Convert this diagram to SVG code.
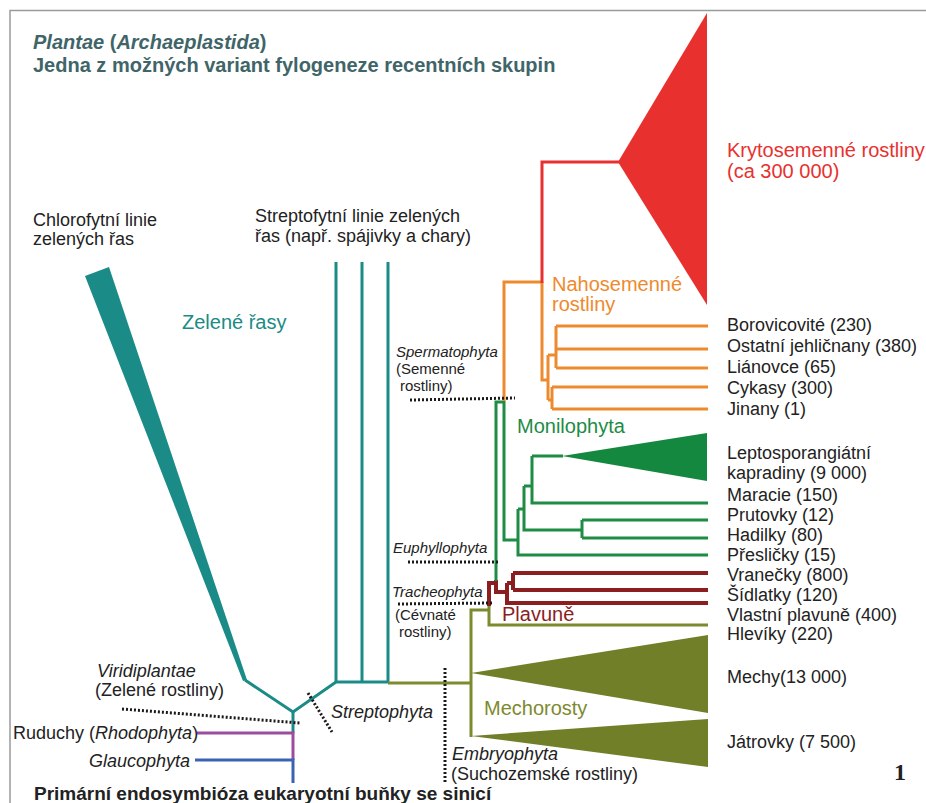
<svg xmlns="http://www.w3.org/2000/svg" width="926" height="803" viewBox="0 0 926 803">
<style>
text{font-family:"Liberation Sans",Arial,sans-serif;fill:#222}
.lab{font-size:18px}
.ann{font-size:15px}
.big{font-size:20px}
.it{font-style:italic}
.ttl{font-size:20px;font-weight:bold;fill:#3f6569}
.ln{fill:none;stroke-linejoin:miter;stroke-linecap:butt}
.teal{stroke:#1a8b86;stroke-width:3}
.org{stroke:#ee8a2e;stroke-width:3}
.grn{stroke:#1e8c45;stroke-width:3}
.dred{stroke:#8b1e1e;stroke-width:4}
.olv{stroke:#7d8a2e;stroke-width:3}
.dot{fill:none;stroke:#1a1a1a;stroke-width:3;stroke-dasharray:2 2}
</style>
<rect width="926" height="803" fill="#ffffff"/>
<path d="M10,803 V10.5 H926" fill="none" stroke="#9a9a9a" stroke-width="1.5"/>

<g id="title">
<text class="ttl" x="33" y="49"><tspan font-style="italic">Plantae</tspan> (<tspan font-style="italic">Archaeplastida</tspan>)</text>
<text class="ttl" x="33" y="72">Jedna z možných variant fylogeneze recentních skupin</text>
</g>

<g id="connectors">
<!-- teal -->
<path class="ln teal" d="M245,680 L293,712 L336,682 H388" stroke-width="4"/>
<path class="ln teal" d="M336,262 V682 M362,262 V682 M388,262 V682 M293,712 V733"/>
<!-- purple / blue -->
<path class="ln" stroke="#9b4c9e" stroke-width="3" d="M197,733 H293 V760"/>
<path class="ln" stroke="#3b63b3" stroke-width="3" d="M195,760 H293 V783"/>
<!-- olive -->
<path class="ln olv" d="M388,683 H471 M489,610 H471 V737"/>
<path class="ln olv" stroke-width="5" d="M489,604 V625 H708"/>
<!-- dark red -->
<path class="ln dred" d="M496,580 V583 H489 V606 M496,583 V592 H507 M507,583 V603 H708 M507,583 H513 M513,573 V590 M513,573 H708 M513,590 H708"/>
<!-- green -->
<path class="ln grn" d="M496,581 V402 H504 V540 H518 M518,509 V555 H708 M518,509 H524 M524,486 V530 H582 M582,520 V538 M582,520 H708 M582,538 H708 M524,486 H532 M532,456 V503 H708 M532,456 H563"/>
<!-- orange -->
<path class="ln org" d="M504,401 V282 H542 M542,282 V380 H548 M548,355 V400 M548,355 H556 M556,326 V368 M556,326 H708 M556,349 H708 M556,368 H708 M548,400 H552 M552,387 V409 M552,387 H708 M552,409 H708"/>
<!-- red -->
<path class="ln" stroke="#e8312f" stroke-width="3" d="M542,283 V162 H620"/>
<!-- dotted markers -->
<path class="dot" d="M122,709 L300,723"/>
<path class="dot" d="M308,693 L332,732"/>
<path class="dot" d="M445,668 V782"/>
<path class="dot" d="M410,400 L515,398"/>
<path class="dot" d="M408,562 H500"/>
<path class="dot" d="M398,604 L493,603"/>
</g>

<g id="chlorophyta">
<polygon points="85,276 109,267 247,680 243,681" fill="#1a8b86"/>
<text class="lab" x="33" y="226">Chlorofytní linie</text>
<text class="lab" x="33" y="245">zelených řas</text>
</g>

<g id="streptophyte-algae">
<text class="lab" x="255" y="222">Streptofytní linie zelených</text>
<text class="lab" x="255" y="242">řas (např. spájivky a chary)</text>
</g>

<g id="green-algae-label">
<text class="big" x="182" y="329" style="fill:#1a8b86">Zelené řasy</text>
</g>

<g id="angiosperms">
<polygon points="618,162 707,13 707,305" fill="#e8312f"/>
<text class="big" x="727" y="157" style="fill:#e8312f">Krytosemenné rostliny</text>
<text class="big" x="727" y="178" style="fill:#e8312f">(ca 300 000)</text>
</g>

<g id="gymnosperms">
<text class="big" x="552" y="291" style="fill:#ee8a2e">Nahosemenné</text>
<text class="big" x="552" y="311" style="fill:#ee8a2e">rostliny</text>
<text class="lab" x="727" y="331">Borovicovité (230)</text>
<text class="lab" x="727" y="352">Ostatní jehličnany (380)</text>
<text class="lab" x="727" y="373">Liánovce (65)</text>
<text class="lab" x="727" y="394">Cykasy (300)</text>
<text class="lab" x="727" y="415">Jinany (1)</text>
</g>

<g id="monilophyta">
<polygon points="562,456 707,433 707,481" fill="#14883f"/>
<text class="big" x="517" y="433" style="fill:#1e8c45">Monilophyta</text>
<text class="lab" x="727" y="459">Leptosporangiátní</text>
<text class="lab" x="727" y="479">kapradiny (9 000)</text>
<text class="lab" x="727" y="501">Maracie (150)</text>
<text class="lab" x="727" y="521">Prutovky (12)</text>
<text class="lab" x="727" y="541">Hadilky (80)</text>
<text class="lab" x="727" y="561">Přesličky (15)</text>
</g>

<g id="lycophytes">
<text class="big" x="502" y="621" style="fill:#8b1e1e">Plavuně</text>
<text class="lab" x="727" y="581">Vranečky (800)</text>
<text class="lab" x="727" y="601">Šídlatky (120)</text>
<text class="lab" x="727" y="621">Vlastní plavuně (400)</text>
</g>

<g id="bryophytes">
<polygon points="471,673 708,635 708,713" fill="#707f28"/>
<polygon points="471,736 708,719 708,767" fill="#707f28"/>
<text class="big" x="484" y="715" style="fill:#7d8a2e">Mechorosty</text>
<text class="lab" x="727" y="640">Hlevíky (220)</text>
<text class="lab" x="727" y="683">Mechy(13 000)</text>
<text class="lab" x="727" y="748">Játrovky (7 500)</text>
</g>

<g id="clade-labels">
<text class="ann it" x="396" y="357">Spermatophyta</text>
<text class="ann" x="396" y="374">(Semenné</text>
<text class="ann" x="400" y="391">rostliny)</text>
<text class="ann it" x="393" y="553">Euphyllophyta</text>
<text class="ann it" x="392" y="597">Tracheophyta</text>
<text class="ann" x="395" y="620">(Cévnaté</text>
<text class="ann" x="399" y="637">rostliny)</text>
<text class="lab it" x="97" y="677">Viridiplantae</text>
<text class="lab" x="95" y="696">(Zelené rostliny)</text>
<text class="lab it" x="331" y="718">Streptophyta</text>
<text class="lab it" x="452" y="760">Embryophyta</text>
<text class="lab" x="451" y="780">(Suchozemské rostliny)</text>
</g>

<g id="rhodophyta">
<text class="lab" x="13" y="739">Ruduchy (<tspan font-style="italic">Rhodophyta</tspan>)</text>
</g>

<g id="glaucophyta">
<text class="lab it" x="89" y="767">Glaucophyta</text>
</g>

<g id="root">
<text x="34" y="800" style="font-size:19px;font-weight:bold">Primární endosymbióza eukaryotní buňky se sinicí</text>
</g>

<text x="894" y="780" style="font-family:'Liberation Serif','DejaVu Serif',serif;font-size:24px;font-weight:bold">1</text>
</svg>
